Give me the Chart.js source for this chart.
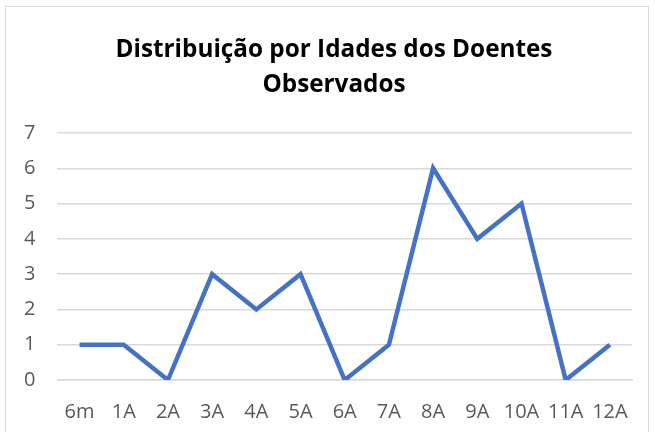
<!DOCTYPE html>
<html>
<head>
<meta charset="utf-8">
<script src="https://cdn.jsdelivr.net/npm/chart.js@4/dist/chart.umd.min.js"></script>
<style>
  html, body { margin: 0; padding: 0; background: #fff; }
  #caixa {
    position: absolute; left: 5px; top: 6px; width: 644px; height: 440px;
    border: 1.5px solid #d9d9d9; box-sizing: border-box;
  }
  #wrap { position: absolute; left: 0; top: 0; width: 655px; height: 432px; }
</style>
</head>
<body>
<div id="caixa"></div>
<div id="wrap"><canvas id="grafico"></canvas></div>
<script>
// Idades (categorias) e número de doentes
const idades = ['6m', '1A', '2A', '3A', '4A', '5A', '6A', '7A', '8A', '9A', '10A', '11A', '12A'];
const doentes = [1, 1, 0, 3, 2, 3, 0, 1, 6, 4, 5, 0, 1];
const tituloLinhas = ['Distribuição por Idades dos Doentes', 'Observados'];

const fonte = "'Open Sans', 'Liberation Sans', sans-serif";

// Título centrado na caixa inteira (como no Excel), não só na área do gráfico
const tituloCaixa = {
    id: 'tituloCaixa',
    afterDraw(chart) {
        const ctx = chart.ctx;
        ctx.save();
        ctx.fillStyle = '#000';
        ctx.font = "bold 24.3px " + fonte;
        ctx.textAlign = 'center';
        ctx.textBaseline = 'middle';
        tituloLinhas.forEach((linha, i) => ctx.fillText(linha, 334, 50 + i * 35));
        ctx.restore();
    }
};

new Chart(document.getElementById('grafico').getContext('2d'), {
    type: 'line',
    data: {
        labels: idades,
        datasets: [{
            label: 'Doentes',
            data: doentes,
            borderColor: '#4472C4',
            backgroundColor: '#4472C4',
            borderWidth: 4.5,
            pointRadius: 0,
            tension: 0,
            borderJoinStyle: 'miter'
        }]
    },
    options: {
        responsive: true,
        maintainAspectRatio: false,
        animation: false,
        layout: { padding: { left: 2, right: 23, top: 133, bottom: -12 } },
        plugins: {
            legend: { display: false },
            tooltip: { enabled: false },
            title: { display: false }
        },
        scales: {
            x: {
                offset: true,
                grid: { display: false, drawTicks: false },
                border: { display: true, color: '#d9d9d9', width: 1.5 },
                ticks: {
                    color: '#595959',
                    font: { family: fonte, size: 20 },
                    padding: 20,
                    maxRotation: 0,
                    autoSkip: false
                }
            },
            y: {
                min: 0,
                max: 7,
                grid: { color: '#d9d9d9', lineWidth: 1.5, drawTicks: false },
                border: { display: false },
                ticks: {
                    stepSize: 1,
                    color: '#595959',
                    font: { family: fonte, size: 20 },
                    padding: 22
                }
            }
        }
    },
    plugins: [tituloCaixa]
});
</script>
</body>
</html>
